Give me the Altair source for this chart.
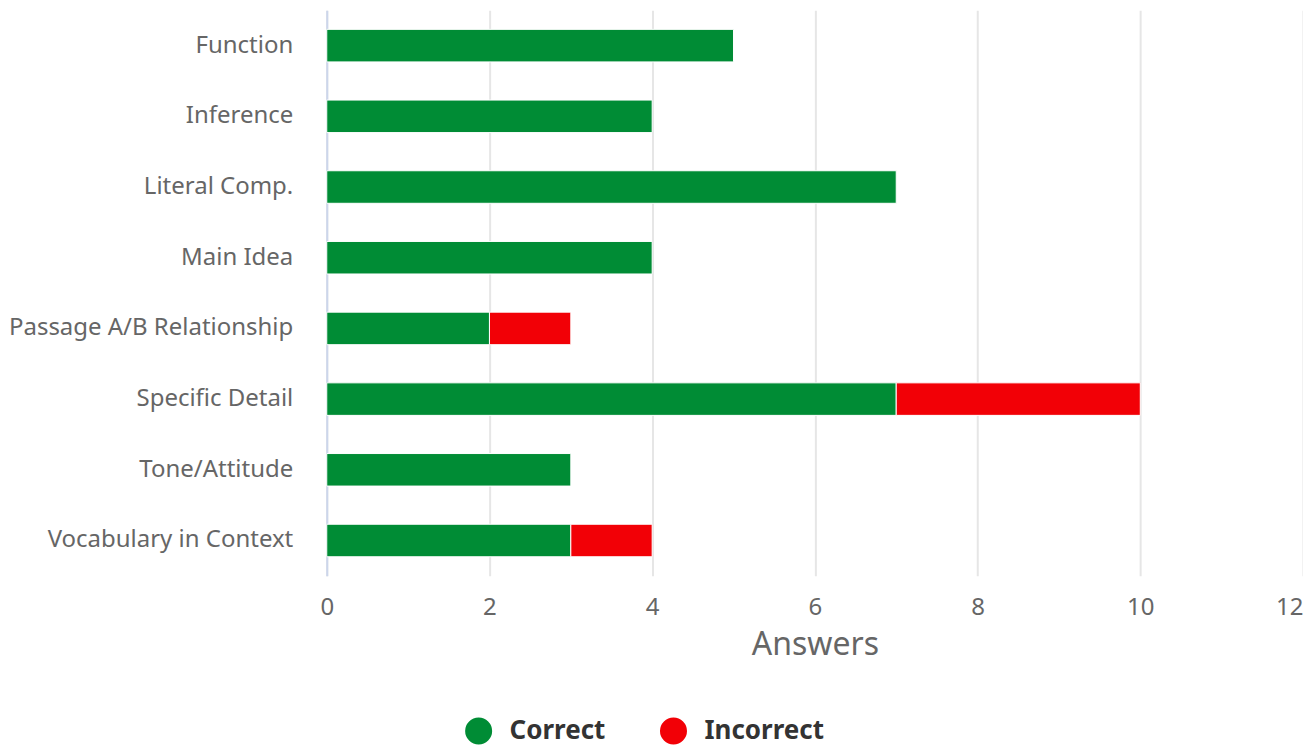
import altair as alt
import pandas as pd

categories = ["Function", "Inference", "Literal Comp.", "Main Idea",
              "Passage A/B Relationship", "Specific Detail", "Tone/Attitude",
              "Vocabulary in Context"]
correct = [5, 4, 7, 4, 2, 7, 3, 3]
incorrect = [0, 0, 0, 0, 1, 3, 0, 1]
series = ["Correct", "Incorrect"]
colors = ["#008c35", "#f20006"]

rows = []
for c, a, b in zip(categories, correct, incorrect):
    if a > 0:
        rows.append({"Category": c, "Result": "Correct", "Answers": a, "order": 0})
    if b > 0:
        rows.append({"Category": c, "Result": "Incorrect", "Answers": b, "order": 1})
df = pd.DataFrame(rows)

FONT = "Noto Sans"

chart = alt.Chart(df).mark_bar(stroke="white", strokeWidth=1).encode(
    x=alt.X("Answers:Q", stack="zero",
            scale=alt.Scale(domain=[0, 12], nice=False),
            axis=alt.Axis(values=[0, 2, 4, 6, 8, 10, 12], title="Answers",
                          grid=True, gridColor="#e6e6e6", gridWidth=2,
                          domain=False, ticks=False, labelFontSize=24,
                          labelColor="#666666", labelPadding=20, labelFont=FONT,
                          labelFlush=False,
                          labelAlign=alt.ExprRef(expr="datum.value == 12 ? 'right' : 'center'"),
                          titleFont=FONT, titleFontSize=32, titleFontWeight="normal",
                          titleColor="#666666", titlePadding=10)),
    y=alt.Y("Category:N", sort=categories,
            scale=alt.Scale(paddingInner=0.54, paddingOuter=0.27),
            axis=alt.Axis(title=None, ticks=False, domain=True, domainColor="#ccd6eb",
                          domainWidth=2, labelFontSize=24, labelColor="#666666",
                          labelPadding=34, labelFont=FONT, labelLimit=400)),
    color=alt.Color("Result:N", scale=alt.Scale(domain=series, range=colors),
                    legend=alt.Legend(title=None, orient="none", direction="horizontal",
                                      legendX=138, legendY=707,
                                      symbolType="circle", symbolSize=730,
                                      symbolStrokeWidth=0,
                                      labelFontSize=26, labelFontWeight="bold",
                                      labelColor="#333333", labelFont=FONT,
                                      labelOffset=17, columnPadding=54)),
    order=alt.Order("order:Q"),
).properties(
    width=977, height=566,
    padding={"left": 0, "top": 2, "right": 0, "bottom": 5},
).configure_view(stroke=None)

chart.save("out.html", embed_options={"renderer": "svg", "actions": False})
